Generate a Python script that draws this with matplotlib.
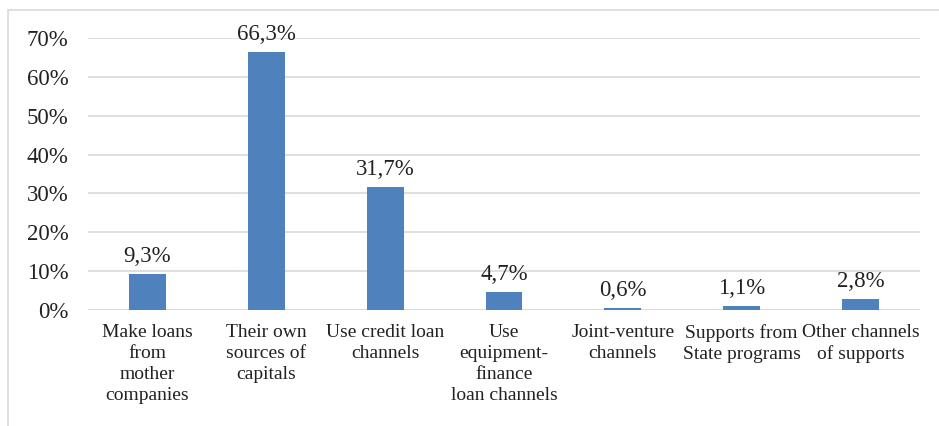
import matplotlib.pyplot as plt
from matplotlib.patches import Rectangle
from matplotlib.ticker import FuncFormatter

# Data
categories = [
    "Make loans\nfrom\nmother\ncompanies",
    "Their own\nsources of\ncapitals",
    "Use credit loan\nchannels",
    "Use\nequipment-\nfinance\nloan channels",
    "Joint-venture\nchannels",
    "Supports from\nState programs",
    "Other channels\nof supports",
]
values = [9.3, 66.3, 31.7, 4.7, 0.6, 1.1, 2.8]
yticks = [0, 10, 20, 30, 40, 50, 60, 70]

plt.rcParams['font.family'] = ['Liberation Serif', 'DejaVu Serif']

W, H = 939, 426
fig = plt.figure(figsize=(W / 100, H / 100), dpi=100)
ax = fig.add_axes([88 / W, 1 - 310 / H, (920 - 88) / W, (310 - 38) / H])

x = range(len(categories))
bars = ax.bar(x, values, width=0.31, color="#4f81bd", zorder=3)

for xi, v in zip(x, values):
    ax.annotate(f"{v:.1f}".replace(".", ",") + "%", (xi, v),
                xytext=(0, 5), textcoords="offset points",
                ha="center", va="bottom", fontsize=16.5, color="#222222")

ax.set_xlim(-0.5, len(categories) - 0.5)
ax.set_ylim(0, 70)
ax.set_yticks(yticks)
ax.yaxis.set_major_formatter(FuncFormatter(lambda v, p: f"{v:.0f}%"))
ax.set_xticks(list(x))
ax.set_xticklabels(categories, fontsize=14, linespacing=1.3, color="#222222")
ax.tick_params(axis="y", labelsize=16.5, length=0, pad=14, labelcolor="#222222")
ax.tick_params(axis="x", length=0, pad=10)
ax.grid(axis="y", color="#d9d9d9", linewidth=1.2, zorder=0)
for s in ax.spines.values():
    s.set_visible(False)
ax.axhline(0, color="#d9d9d9", linewidth=1.5, zorder=2)

# light frame around the chart
fig.patches.append(Rectangle((8 / W, -0.05), 1.1, 1 - 10 / H + 0.05,
                             transform=fig.transFigure, fill=False,
                             edgecolor="#d9d9d9", linewidth=1.2))

fig.savefig("out.png", dpi=100)
